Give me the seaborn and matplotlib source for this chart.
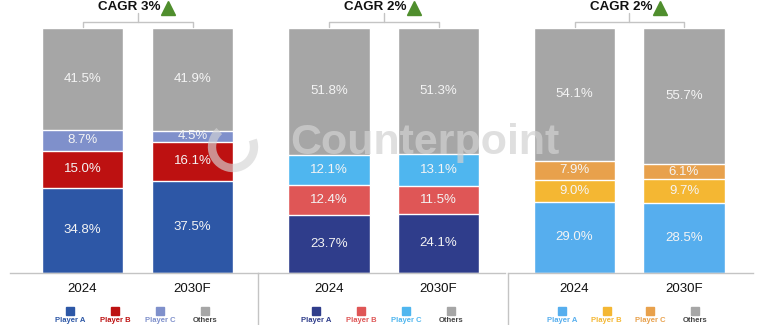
import matplotlib
matplotlib.use("Agg")
import matplotlib.pyplot as plt
from matplotlib.lines import Line2D
from matplotlib.patches import Arc
import seaborn as sns
import pandas as pd

sns.set_theme(style="white")
plt.rcParams["font.family"] = ["Liberation Sans", "DejaVu Sans"]

# ---- data -----------------------------------------------------------------
periods = ["2024", "2030F"]
segments = ["Player A", "Player B", "Player C", "Others"]   # bottom -> top

panel1_values = {"Player A": [34.8, 37.5], "Player B": [15.0, 16.1],
                 "Player C": [8.7, 4.5], "Others": [41.5, 41.9]}
panel2_values = {"Player A": [23.7, 24.1], "Player B": [12.4, 11.5],
                 "Player C": [12.1, 13.1], "Others": [51.8, 51.3]}
panel3_values = {"Player A": [29.0, 28.5], "Player B": [9.0, 9.7],
                 "Player C": [7.9, 6.1], "Others": [54.1, 55.7]}
cagr_labels = ["CAGR 3%", "CAGR 2%", "CAGR 2%"]

panel1_colors = ["#2D57A6", "#BD1111", "#7F90CB", "#A6A6A6"]
panel2_colors = ["#2F3D8B", "#DF5656", "#4FB6EF", "#A6A6A6"]
panel3_colors = ["#56AEEE", "#F4B733", "#E8A14C", "#A6A6A6"]

# ---- layout (pixels) ------------------------------------------------------
W, H = 765, 325
BASE, TOP = 273, 28
panels = [
    dict(vals=panel1_values, cols=panel1_colors, left=10, right=258, c1=82.5, c2=192.5),
    dict(vals=panel2_values, cols=panel2_colors, left=258, right=505, c1=329, c2=438.5),
    dict(vals=panel3_values, cols=panel3_colors, left=508, right=753, c1=574.5, c2=684),
]
LINE = "#C4C4C4"

fig = plt.figure(figsize=(W / 100, H / 100), dpi=100)
fig.patch.set_facecolor("white")

def fx(px):
    return px / W

def fy(py):
    return 1 - py / H

# faint watermark behind the bars
fig.text(fx(425), fy(143), "Counterpoint", fontsize=31, fontweight="bold",
         color="#D2D2D2", alpha=0.7, ha="center", va="center", zorder=0)

for i, p in enumerate(panels):
    ax = fig.add_axes([fx(p["left"]), fy(BASE), fx(p["right"] - p["left"]),
                       (BASE - TOP) / H])
    ax.set_facecolor("none")
    d = p["c2"] - p["c1"]
    df = pd.DataFrame({"period": periods})
    # stacked bars: draw cumulative totals from the top segment downwards
    cum = [0.0, 0.0]
    cums = []
    for s in segments:
        cum = [a + b for a, b in zip(cum, p["vals"][s])]
        cums.append(list(cum))
    for k in range(len(segments) - 1, -1, -1):
        df["total"] = cums[k]
        sns.barplot(data=df, x="period", y="total", color=p["cols"][k],
                    width=0.74, saturation=1, ax=ax, zorder=2)
    # value labels
    for k, s in enumerate(segments):
        for j in range(2):
            v = p["vals"][s][j]
            y = cums[k][j] - v / 2
            ax.text(j, y, f"{v:.1f}%", ha="center", va="center",
                    fontsize=9.5, color="#F4F4F4", zorder=3)
    ax.set_xlim((p["left"] - p["c1"]) / d, (p["right"] - p["c1"]) / d)
    ax.set_ylim(0, 100)
    ax.set_xlabel("")
    ax.set_ylabel("")
    ax.set_yticks([])
    ax.tick_params(axis="x", length=0, pad=7, labelsize=9.5, labelcolor="#111111")
    for sp in ["top", "right", "left"]:
        ax.spines[sp].set_visible(False)
    ax.spines["bottom"].set_color(LINE)
    ax.spines["bottom"].set_linewidth(1)

    # CAGR bracket
    yb = (BASE - 22) / (BASE - TOP) * 100
    yd = (BASE - 27) / (BASE - TOP) * 100
    yu = (BASE - 13) / (BASE - TOP) * 100
    yt = (BASE - 7.5) / (BASE - TOP) * 100
    ax.plot([0, 0, 1, 1], [yd, yb, yb, yd], color=LINE, lw=1, clip_on=False)
    ax.plot([0.5, 0.5], [yb, yu], color=LINE, lw=1, clip_on=False)
    ax.annotate(cagr_labels[i], xy=(0.5, yt), xytext=(23 * 0.72, 0),
                textcoords="offset points", ha="right", va="center",
                fontsize=9.6, fontweight="bold", color="#111111",
                annotation_clip=False)
    ax.plot([0.5 + 30.5 / d], [yt - 0.4], marker="^", markersize=10,
            color="#4F8E2D", clip_on=False, linestyle="none")

    # legend row: squares with small names underneath
    gc = (p["c1"] + p["c2"]) / 2
    for k, off in enumerate([-67.5, -22.5, 22.5, 67.5]):
        xk = gc + off - (1.5 if i == 2 and k >= 2 else 0)
        fig.add_artist(Line2D([fx(xk)], [fy(311)], marker="s", markersize=5.2,
                              color=p["cols"][k], linestyle="none"))
        txt_col = p["cols"][k] if k < 3 else "#444444"
        fig.text(fx(xk), fy(324.3), segments[k], ha="center", va="bottom",
                 fontsize=5.5, fontweight="bold", color=txt_col)

# watermark ring
ring = Arc((fx(233), fy(147)), 2 * 21 / W, 2 * 21 / H, theta1=110, theta2=400,
           transform=fig.transFigure, color="#D5D5D5", lw=6, alpha=0.65, zorder=5)
fig.add_artist(ring)

# separators between the panels
for xs in [258, 508]:
    fig.add_artist(Line2D([fx(xs), fx(xs)], [fy(BASE), 0], color=LINE, lw=1))

fig.savefig("out.png", dpi=100, facecolor="white")
